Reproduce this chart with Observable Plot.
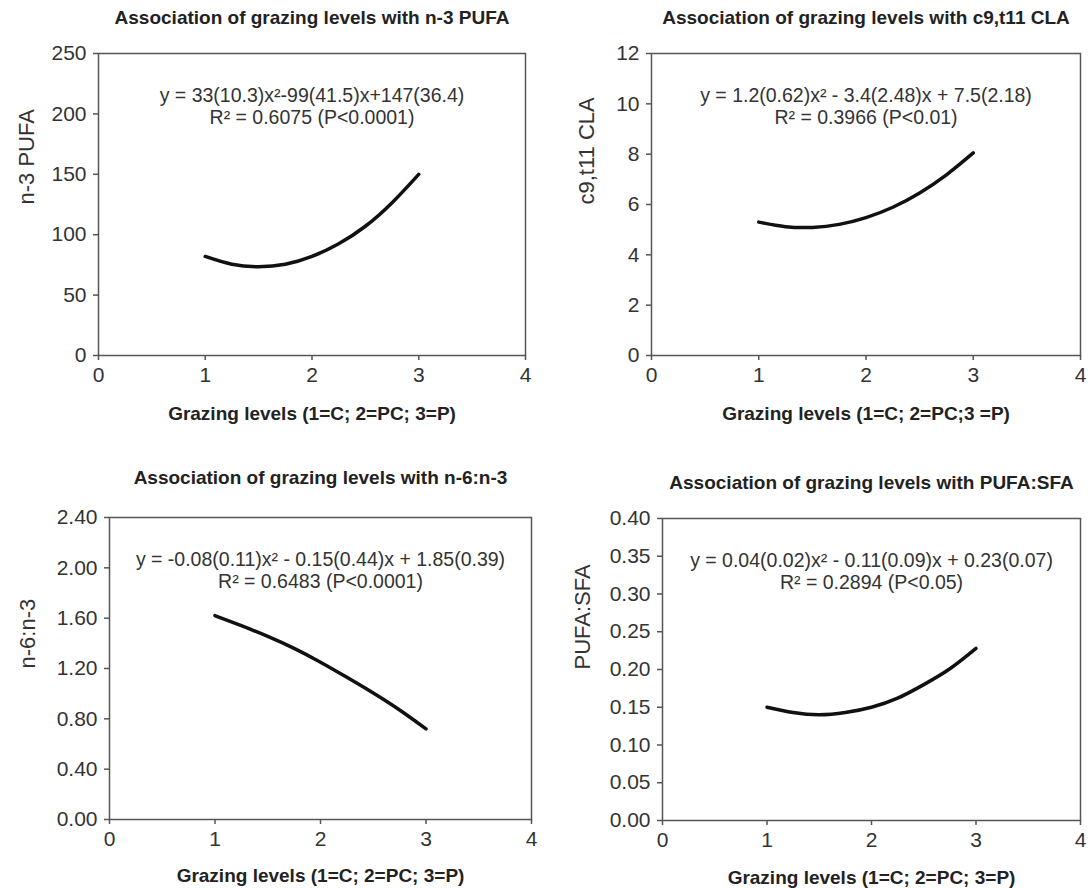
<!DOCTYPE html>
<html>
<head>
<meta charset="utf-8">
<script src="https://cdn.jsdelivr.net/npm/d3@7"></script>
<script src="https://cdn.jsdelivr.net/npm/@observablehq/plot@0.6"></script>
<style>
  html, body { margin: 0; padding: 0; background: white; }
  #root { position: relative; width: 1088px; height: 888px; overflow: hidden; background: white; }
  .panel { position: absolute; }
</style>
</head>
<body>
<div id="root"></div>
<script>
// ---- data ----
const grazing = [1, 1.25, 1.5, 1.75, 2, 2.25, 2.5, 2.75, 3];
const n3PUFA  = [82, 75.5, 73.5, 75.5, 82, 92.5, 107, 126.5, 150];
const c9t11CLA = [5.3, 5.12, 5.09, 5.21, 5.48, 5.89, 6.46, 7.18, 8.05];
const n6n3    = [1.62, 1.54, 1.455, 1.36, 1.25, 1.13, 1.005, 0.87, 0.72];
const pufaSfa = [0.150, 0.143, 0.140, 0.143, 0.150, 0.162, 0.180, 0.201, 0.228];

const xTicks = [0, 1, 2, 3, 4];
const yTicksA = [0, 50, 100, 150, 200, 250];
const yTicksB = [0, 2, 4, 6, 8, 10, 12];
const yTicksC = [0, 0.4, 0.8, 1.2, 1.6, 2.0, 2.4];
const yTicksD = [0, 0.05, 0.10, 0.15, 0.20, 0.25, 0.30, 0.35, 0.40];

const titles = [
  "Association of grazing levels with n-3 PUFA",
  "Association of grazing levels with c9,t11 CLA",
  "Association of grazing levels with n-6:n-3",
  "Association of grazing levels with PUFA:SFA"
];
const yLabels = ["n-3 PUFA", "c9,t11 CLA", "n-6:n-3", "PUFA:SFA"];
const xLabels = [
  "Grazing levels (1=C; 2=PC; 3=P)",
  "Grazing levels (1=C; 2=PC;3 =P)",
  "Grazing levels (1=C; 2=PC; 3=P)",
  "Grazing levels (1=C; 2=PC; 3=P)"
];
const equations = [
  "y = 33(10.3)x²-99(41.5)x+147(36.4)",
  "y = 1.2(0.62)x² - 3.4(2.48)x + 7.5(2.18)",
  "y = -0.08(0.11)x² - 0.15(0.44)x + 1.85(0.39)",
  "y = 0.04(0.02)x² - 0.11(0.09)x + 0.23(0.07)"
];
const r2Labels = [
  "R² = 0.6075 (P<0.0001)",
  "R² = 0.3966 (P<0.01)",
  "R² = 0.6483 (P<0.0001)",
  "R² = 0.2894 (P<0.05)"
];

const FONT = "'Liberation Sans', Arial, Helvetica, sans-serif";
const root = document.getElementById("root");

function panel(cfg) {
  const data = grazing.map((g, i) => ({x: g, y: cfg.values[i]}));
  const chart = Plot.plot({
    width: cfg.w,
    height: cfg.h,
    marginLeft: cfg.ml,
    marginRight: cfg.mr,
    marginTop: cfg.mt,
    marginBottom: cfg.mb,
    x: {domain: [0, 4]},
    y: {domain: cfg.yDomain},
    style: {fontFamily: FONT, fontSize: "21px", color: "#333", background: "white", overflow: "visible"},
    marks: [
      Plot.frame({stroke: "#555", strokeWidth: 1.5}),
      Plot.axisX({ticks: xTicks, tickFormat: d3.format("d"), tickSize: 5, tickPadding: 7, label: null, fontSize: 21, stroke: "#555", strokeWidth: 1.5}),
      Plot.axisY({ticks: cfg.yTicks, tickFormat: cfg.yFormat, tickSize: 5, tickPadding: 7, label: null, fontSize: 21, stroke: "#555", strokeWidth: 1.5}),
      Plot.line(data, {x: "x", y: "y", curve: "natural", stroke: "#111", strokeWidth: 3.5, strokeLinecap: "round"}),
      Plot.text([cfg.eq], {text: d => d, frameAnchor: "top", lineAnchor: "middle", dy: 42, fontSize: 19.5, fill: "#333"}),
      Plot.text([cfg.r2], {text: d => d, frameAnchor: "top", lineAnchor: "middle", dy: 64, fontSize: 19.5, fill: "#333"}),
      Plot.text([cfg.title], {text: d => d, frameAnchor: "top", lineAnchor: "middle", dy: cfg.titleDy, fontSize: 19, fontWeight: "bold", fill: "#222"}),
      Plot.text([cfg.xLabel], {text: d => d, frameAnchor: "bottom", lineAnchor: "middle", dy: cfg.xLabelDy, fontSize: 19, fontWeight: "bold", fill: "#222"}),
      Plot.text([cfg.yLabel], {text: d => d, frameAnchor: "left", lineAnchor: "middle", dx: cfg.yLabelDx, rotate: -90, fontSize: 22, fill: "#333"})
    ]
  });
  const div = document.createElement("div");
  div.className = "panel";
  div.style.left = cfg.left + "px";
  div.style.top = cfg.top + "px";
  div.appendChild(chart);
  root.appendChild(div);
}

panel({left: 0, top: 0, w: 544, h: 440, ml: 98, mr: 19, mt: 53, mb: 85,
  yDomain: [0, 250], yTicks: yTicksA, yFormat: d3.format("d"), values: n3PUFA,
  title: titles[0], yLabel: yLabels[0], xLabel: xLabels[0], eq: equations[0], r2: r2Labels[0],
  titleDy: -36, xLabelDy: 58, yLabelDx: -72});

panel({left: 544, top: 0, w: 544, h: 440, ml: 107, mr: 8, mt: 53, mb: 85,
  yDomain: [0, 12], yTicks: yTicksB, yFormat: d3.format("d"), values: c9t11CLA,
  title: titles[1], yLabel: yLabels[1], xLabel: xLabels[1], eq: equations[1], r2: r2Labels[1],
  titleDy: -36, xLabelDy: 58, yLabelDx: -65});

panel({left: 0, top: 440, w: 544, h: 448, ml: 109, mr: 13, mt: 77, mb: 69,
  yDomain: [0, 2.4], yTicks: yTicksC, yFormat: d3.format(".2f"), values: n6n3,
  title: titles[2], yLabel: yLabels[2], xLabel: xLabels[2], eq: equations[2], r2: r2Labels[2],
  titleDy: -40, xLabelDy: 56, yLabelDx: -82});

panel({left: 544, top: 440, w: 544, h: 448, ml: 118, mr: 8, mt: 78, mb: 68,
  yDomain: [0, 0.4], yTicks: yTicksD, yFormat: d3.format(".2f"), values: pufaSfa,
  title: titles[3], yLabel: yLabels[3], xLabel: xLabels[3], eq: equations[3], r2: r2Labels[3],
  titleDy: -36, xLabelDy: 57, yLabelDx: -80});
</script>
</body>
</html>
